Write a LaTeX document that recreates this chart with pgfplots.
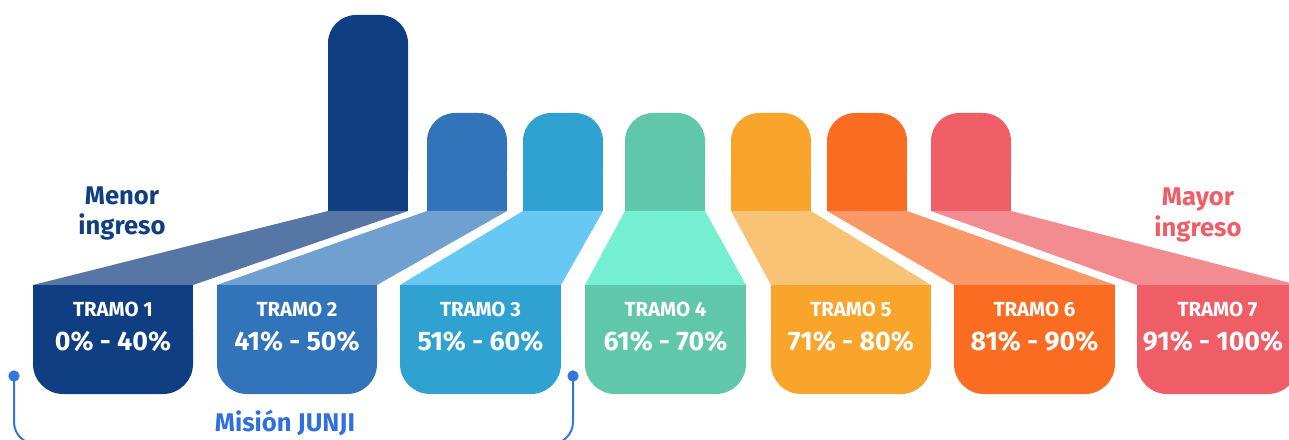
\documentclass[border=0pt]{standalone}
\usepackage{fontspec}
\setmainfont{Fira Sans}
\usepackage{pgfplots}
\pgfplotsset{compat=1.18}
\definecolor{ca}{HTML}{0F3E82}\definecolor{cal}{HTML}{5676A6}
\definecolor{cb}{HTML}{3274BA}\definecolor{cbl}{HTML}{6FA0D0}
\definecolor{cc}{HTML}{30A2D2}\definecolor{ccl}{HTML}{66C8F3}
\definecolor{cd}{HTML}{60C7AA}\definecolor{cdl}{HTML}{74EFD2}
\definecolor{ce}{HTML}{F9A42A}\definecolor{cel}{HTML}{F8C374}
\definecolor{cf}{HTML}{FA6C22}\definecolor{cfl}{HTML}{FA9967}
\definecolor{cg}{HTML}{EF5D66}\definecolor{cgl}{HTML}{F38C91}
\definecolor{junji}{HTML}{2F6FDE}
\definecolor{brk}{HTML}{3476E0}
\begin{document}
\begin{tikzpicture}
\begin{axis}[x=0.5pt,y=0.5pt,xmin=0,xmax=1289,ymin=0,ymax=439,hide axis,clip=true,
  every axis plot/.append style={draw=none}]
% columns: rounded tops
\addplot[fill=ca,rounded corners=14pt] coordinates {(328,240) (328,424) (408,424) (408,240)} -- cycle;
\addplot[fill=ca] coordinates {(328,228) (328,270) (408,270) (408,228)} -- cycle;
\addplot[fill=cb,rounded corners=14pt] coordinates {(427,240) (427,326) (507,326) (507,240)} -- cycle;
\addplot[fill=cb] coordinates {(427,228) (427,270) (507,270) (507,228)} -- cycle;
\addplot[fill=cc,rounded corners=14pt] coordinates {(523,240) (523,326) (603,326) (603,240)} -- cycle;
\addplot[fill=cc] coordinates {(523,228) (523,270) (603,270) (603,228)} -- cycle;
\addplot[fill=cd,rounded corners=14pt] coordinates {(625,240) (625,326) (705,326) (705,240)} -- cycle;
\addplot[fill=cd] coordinates {(625,228) (625,270) (705,270) (705,228)} -- cycle;
\addplot[fill=ce,rounded corners=14pt] coordinates {(731,240) (731,326) (811,326) (811,240)} -- cycle;
\addplot[fill=ce] coordinates {(731,228) (731,270) (811,270) (811,228)} -- cycle;
\addplot[fill=cf,rounded corners=14pt] coordinates {(827,240) (827,326) (907,326) (907,240)} -- cycle;
\addplot[fill=cf] coordinates {(827,228) (827,270) (907,270) (907,228)} -- cycle;
\addplot[fill=cg,rounded corners=14pt] coordinates {(931,240) (931,326) (1011,326) (1011,240)} -- cycle;
\addplot[fill=cg] coordinates {(931,228) (931,270) (1011,270) (1011,228)} -- cycle;
% connectors
\addplot[fill=cal] coordinates {(33,154) (193,154) (408,228) (328,228)} -- cycle;
\addplot[fill=cbl] coordinates {(217,154) (377,154) (507,228) (427,228)} -- cycle;
\addplot[fill=ccl] coordinates {(400,154) (561,154) (603,228) (523,228)} -- cycle;
\addplot[fill=cdl] coordinates {(585,154) (746,154) (705,228) (625,228)} -- cycle;
\addplot[fill=cel] coordinates {(771,154) (931,154) (811,228) (731,228)} -- cycle;
\addplot[fill=cfl] coordinates {(954,154) (1115,154) (907,228) (827,228)} -- cycle;
\addplot[fill=cgl] coordinates {(1137,154) (1298,154) (1011,228) (931,228)} -- cycle;
% boxes: rounded bottoms
\addplot[fill=ca,rounded corners=15pt] coordinates {(33,45) (33,140) (193,140) (193,45)} -- cycle;
\addplot[fill=ca] coordinates {(33,105) (33,154) (193,154) (193,105)} -- cycle;
\addplot[fill=cb,rounded corners=15pt] coordinates {(217,45) (217,140) (377,140) (377,45)} -- cycle;
\addplot[fill=cb] coordinates {(217,105) (217,154) (377,154) (377,105)} -- cycle;
\addplot[fill=cc,rounded corners=15pt] coordinates {(400,45) (400,140) (561,140) (561,45)} -- cycle;
\addplot[fill=cc] coordinates {(400,105) (400,154) (561,154) (561,105)} -- cycle;
\addplot[fill=cd,rounded corners=15pt] coordinates {(585,45) (585,140) (746,140) (746,45)} -- cycle;
\addplot[fill=cd] coordinates {(585,105) (585,154) (746,154) (746,105)} -- cycle;
\addplot[fill=ce,rounded corners=15pt] coordinates {(771,45) (771,140) (931,140) (931,45)} -- cycle;
\addplot[fill=ce] coordinates {(771,105) (771,154) (931,154) (931,105)} -- cycle;
\addplot[fill=cf,rounded corners=15pt] coordinates {(954,45) (954,140) (1115,140) (1115,45)} -- cycle;
\addplot[fill=cf] coordinates {(954,105) (954,154) (1115,154) (1115,105)} -- cycle;
\addplot[fill=cg,rounded corners=15pt] coordinates {(1137,45) (1137,140) (1298,140) (1298,45)} -- cycle;
\addplot[fill=cg] coordinates {(1137,105) (1137,154) (1298,154) (1298,105)} -- cycle;
% bracket
\addplot[draw=brk,line width=1pt,rounded corners=11pt] coordinates {(14,63) (14,-5) (573,-5) (573,63)};
\addplot[only marks,mark=*,mark size=2.6pt,color=brk,draw=brk,fill=brk] coordinates {(14,63) (573,63)};
% texts
\begin{scope}[every node/.style={inner sep=0pt,anchor=base,font=\bfseries}]
\node[text=ca,font=\fontsize{12.8}{14}\bfseries] at (axis cs:122,234) {Menor};
\node[text=ca,font=\fontsize{12.8}{14}\bfseries] at (axis cs:122,204) {ingreso};
\node[text=cg,font=\fontsize{12.8}{14}\bfseries] at (axis cs:1198,233) {Mayor};
\node[text=cg,font=\fontsize{12.8}{14}\bfseries] at (axis cs:1198,202) {ingreso};
\node[text=junji,font=\fontsize{12.8}{14}\bfseries] at (axis cs:285,8) {Misión JUNJI};
\end{scope}
\begin{scope}[every node/.style={inner sep=0pt,anchor=base,text=white}]
\node[font=\fontsize{10.2}{12}\bfseries] at (axis cs:113,122) {TRAMO 1};
\node[font=\fontsize{10.2}{12}\bfseries] at (axis cs:297,122) {TRAMO 2};
\node[font=\fontsize{10.2}{12}\bfseries] at (axis cs:480.5,122) {TRAMO 3};
\node[font=\fontsize{10.2}{12}\bfseries] at (axis cs:665.5,122) {TRAMO 4};
\node[font=\fontsize{10.2}{12}\bfseries] at (axis cs:851,122) {TRAMO 5};
\node[font=\fontsize{10.2}{12}\bfseries] at (axis cs:1034.5,122) {TRAMO 6};
\node[font=\fontsize{10.2}{12}\bfseries] at (axis cs:1217.5,122) {TRAMO 7};
\node[font=\fontsize{13.4}{15}\bfseries] at (axis cs:113,89) {0\% - 40\%};
\node[font=\fontsize{13.4}{15}\bfseries] at (axis cs:297,89) {41\% - 50\%};
\node[font=\fontsize{13.4}{15}\bfseries] at (axis cs:480.5,89) {51\% - 60\%};
\node[font=\fontsize{13.4}{15}\bfseries] at (axis cs:665.5,89) {61\% - 70\%};
\node[font=\fontsize{13.4}{15}\bfseries] at (axis cs:851,89) {71\% - 80\%};
\node[font=\fontsize{13.4}{15}\bfseries] at (axis cs:1034.5,89) {81\% - 90\%};
\node[font=\fontsize{13.4}{15}\bfseries] at (axis cs:1213,89) {91\% - 100\%};
\end{scope}
\end{axis}
\pgfresetboundingbox
\path[use as bounding box] (current axis.south west) rectangle (current axis.north east);
\end{tikzpicture}
\end{document}
